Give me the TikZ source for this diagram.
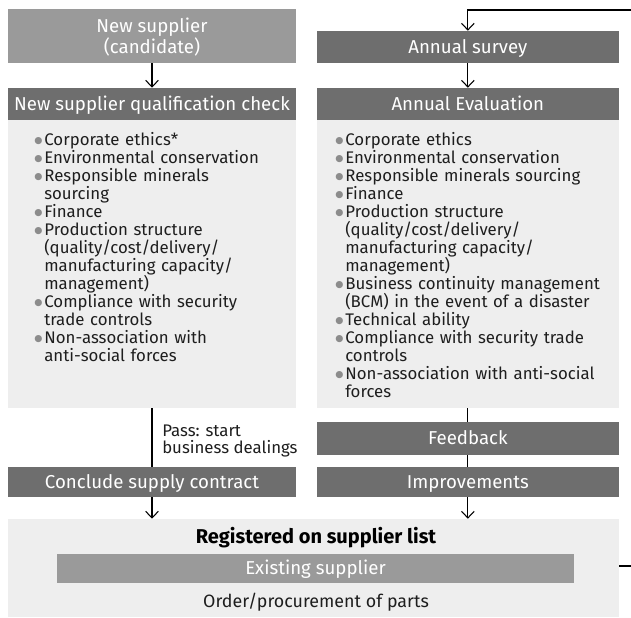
\documentclass[tikz,border=0pt]{standalone}
\usepackage{fontspec}
\setmainfont{Fira Sans}
\newfontfamily\djv{DejaVu Sans}
\usetikzlibrary{fit,arrows.meta,calc}
\definecolor{darkg}{HTML}{6E6E6E}
\definecolor{midg}{HTML}{9A9A9A}
\definecolor{lightg}{HTML}{EEEEEE}
\definecolor{bulg}{HTML}{8C8C8C}
\definecolor{txt}{HTML}{1E1E1E}
\newcommand{\gbul}{\textcolor{bulg}{\raisebox{1.0pt}{\djv\fontsize{7pt}{7pt}\selectfont ●}}}
\newenvironment{blist}{\begin{list}{\gbul}{\setlength{\leftmargin}{6.9pt}\setlength{\labelsep}{1.4pt}\setlength{\labelwidth}{6pt}\setlength{\itemsep}{0pt}\setlength{\parsep}{0pt}\setlength{\topsep}{0pt}\setlength{\partopsep}{0pt}}}{\end{list}}
\begin{document}
\begin{tikzpicture}[x=0.75pt,y=-0.75pt,
  hdr/.style={fill=darkg,inner sep=0pt},
  mid/.style={fill=midg,inner sep=0pt},
  lbox/.style={fill=lightg,inner sep=0pt},
  wt/.style={text=white,inner sep=0pt,anchor=base,font=\fontsize{14pt}{15.5pt}\selectfont},
  lst/.style={anchor=north west,inner sep=0pt,text=txt,font=\fontsize{12.6pt}{13.5pt}\selectfont,text width=280pt},
  plain/.style={text=txt,inner sep=0pt,anchor=base,font=\fontsize{12.6pt}{13.5pt}\selectfont},
  arr/.style={-{Straight Barb[length=5pt,width=9.5pt]},line width=0.8pt},
  ln/.style={line width=0.8pt}]
\useasboundingbox (0,0) rectangle (631,617);
% left column
\node[mid,fit={(8,9)(296,63)}] (ns) {};
\node[wt,anchor=center,align=center] (nsT) at ($(ns.center)+(0,1)$) {New supplier\\(candidate)};
\node[hdr,fit={(8,88)(296,120)}] (qc) {};
\node[wt] (qcT) at ($(qc.center)+(0,6.4)$) {New supplier qualification check};
\node[lbox,fit={(8,120)(296,408)}] (ql) {};
\node[hdr,fit={(8,467)(296,497)}] (cc) {};
\node[wt] (ccT) at ($(cc.center)+(0,6.4)$) {Conclude supply contract};
% right column
\node[hdr,fit={(316.7,31)(619,63)}] (sv) {};
\node[wt] (svT) at ($(sv.center)+(0,6.4)$) {Annual survey};
\node[hdr,fit={(316.7,88)(619,120)}] (ae) {};
\node[wt] (aeT) at ($(ae.center)+(0,6.4)$) {Annual Evaluation};
\node[lbox,fit={(316.7,120)(619,408)}] (al) {};
\node[hdr,fit={(316.7,422)(619,455)}] (fb) {};
\node[wt] (fbT) at ($(fb.center)+(0,6.4)$) {Feedback};
\node[hdr,fit={(316.7,467)(619,497)}] (im) {};
\node[wt] (imT) at ($(im.center)+(0,6.4)$) {Improvements};
% bottom
\node[lbox,fit={(8,519)(619,617)}] (reg) {};
\node[plain,text=black,font=\fontsize{15pt}{16pt}\selectfont\bfseries] (regt) at (316,543.5) {Registered on supplier list};
\node[mid,fit={(57,554)(574,583)}] (es) {};
\node[wt] (esT) at ($(es.center)+(0,6.4)$) {Existing supplier};
\node[plain,font=\fontsize{13.4pt}{14pt}\selectfont] (ord) at (316,607.5) {Order/procurement of parts};
% lists
\node[lst] (qlt) at (34.8,127) {\begin{blist}
\item Corporate ethics*
\item Environmental conservation
\item Responsible minerals\\sourcing
\item Finance
\item Production structure\\(quality/cost/delivery/\\manufacturing capacity/\\management)
\item Compliance with security\\trade controls
\item Non-association with\\anti-social forces
\end{blist}};
\node[lst] (alt) at (335.8,127) {\begin{blist}
\item Corporate ethics
\item Environmental conservation
\item Responsible minerals sourcing
\item Finance
\item Production structure\\(quality/cost/delivery/\\manufacturing capacity/\\management)
\item Business continuity management\\(BCM) in the event of a disaster
\item Technical ability
\item Compliance with security trade\\controls
\item Non-association with anti-social\\forces
\end{blist}};
% connectors
\draw[arr] (ns.south) -- (qc.north);
\draw[arr] (sv.south) -- (ae.north);
\draw[ln] (ql.south) -- (cc.north);
\node[plain,anchor=base west] (pass1) at (162,436.7) {Pass: start};
\node[plain,anchor=base west] (pass2) at (162,453.3) {business dealings};
\draw[ln] (al.south) -- (fb.north);
\draw[ln] (fb.south) -- (im.north);
\draw[arr] (cc.south) -- (cc.south |- reg.north);
\draw[arr] (im.south) -- (im.south |- reg.north);
\coordinate (lp1) at (645,566);
\coordinate (lp2) at (645,10);
\draw[arr] (reg.east |- 0,566) -- (lp1) -- (lp2) -- (lp2 -| sv.north) -- (sv.north);
\end{tikzpicture}
\end{document}
